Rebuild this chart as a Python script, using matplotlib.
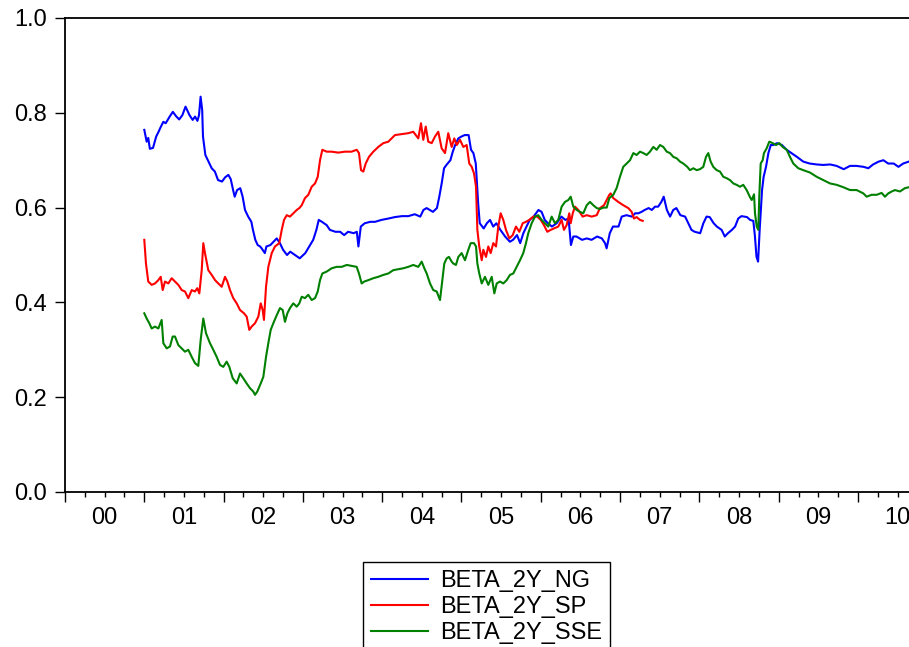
import matplotlib
matplotlib.use("Agg")
import matplotlib.pyplot as plt
from matplotlib.ticker import FixedLocator, FuncFormatter

plt.rcParams["font.family"] = ["Liberation Sans", "DejaVu Sans"]

# rolling two-year betas, dates as decimal years
NG_T = [2001.00, 2001.03, 2001.05, 2001.07, 2001.11, 2001.15, 2001.18, 2001.21, 2001.24, 2001.27,
        2001.32, 2001.36, 2001.40, 2001.44, 2001.48, 2001.52, 2001.57, 2001.61, 2001.64, 2001.67,
        2001.69, 2001.71, 2001.73, 2001.74, 2001.77, 2001.81, 2001.85, 2001.89, 2001.93, 2001.98,
        2002.02, 2002.06, 2002.09, 2002.12, 2002.14, 2002.17, 2002.21, 2002.24, 2002.27, 2002.31,
        2002.35, 2002.37, 2002.40, 2002.43, 2002.46, 2002.48, 2002.52, 2002.54, 2002.59, 2002.63,
        2002.67, 2002.71, 2002.75, 2002.80, 2002.84, 2002.90, 2002.96, 2003.03, 2003.09, 2003.13,
        2003.17, 2003.20, 2003.24, 2003.30, 2003.34, 2003.41, 2003.47, 2003.52, 2003.57, 2003.64,
        2003.68, 2003.70, 2003.73, 2003.78, 2003.85, 2003.91, 2003.99, 2004.08, 2004.16, 2004.25,
        2004.33, 2004.41, 2004.48, 2004.52, 2004.56, 2004.60, 2004.64, 2004.69, 2004.72, 2004.75,
        2004.78, 2004.81, 2004.86, 2004.89, 2004.92, 2004.96, 2005.00, 2005.04, 2005.09, 2005.12,
        2005.15, 2005.18, 2005.21, 2005.23, 2005.28, 2005.32, 2005.36, 2005.40, 2005.44, 2005.49,
        2005.55, 2005.61, 2005.65, 2005.70, 2005.74, 2005.78, 2005.82, 2005.86, 2005.91, 2005.97,
        2006.01, 2006.05, 2006.09, 2006.14, 2006.20, 2006.26, 2006.31, 2006.35, 2006.38, 2006.41,
        2006.45, 2006.52, 2006.58, 2006.64, 2006.71, 2006.77, 2006.81, 2006.83, 2006.87, 2006.91,
        2006.98, 2007.02, 2007.08, 2007.15, 2007.19, 2007.23, 2007.27, 2007.31, 2007.36, 2007.40,
        2007.44, 2007.48, 2007.52, 2007.55, 2007.59, 2007.63, 2007.67, 2007.71, 2007.76, 2007.82,
        2007.86, 2007.90, 2007.94, 2008.01, 2008.05, 2008.09, 2008.13, 2008.18, 2008.22, 2008.28,
        2008.32, 2008.36, 2008.41, 2008.45, 2008.49, 2008.53, 2008.60, 2008.64, 2008.68, 2008.70,
        2008.72, 2008.74, 2008.76, 2008.79, 2008.81, 2008.84, 2008.87, 2008.90, 2008.93, 2008.98,
        2009.04, 2009.10, 2009.16, 2009.23, 2009.31, 2009.39, 2009.48, 2009.56, 2009.65, 2009.73,
        2009.82, 2009.90, 2009.98, 2010.07, 2010.13, 2010.19, 2010.26, 2010.32, 2010.38, 2010.45,
        2010.51, 2010.57, 2010.64]
NG_V = [0.764, 0.739, 0.747, 0.724, 0.726, 0.750, 0.760, 0.771, 0.781, 0.778,
        0.792, 0.802, 0.793, 0.786, 0.795, 0.813, 0.795, 0.785, 0.792, 0.783,
        0.795, 0.834, 0.806, 0.750, 0.711, 0.697, 0.683, 0.676, 0.658, 0.655,
        0.664, 0.669, 0.660, 0.637, 0.623, 0.637, 0.641, 0.623, 0.595, 0.581,
        0.570, 0.553, 0.532, 0.521, 0.518, 0.514, 0.504, 0.518, 0.521, 0.528,
        0.535, 0.525, 0.511, 0.500, 0.507, 0.500, 0.493, 0.504, 0.521, 0.532,
        0.553, 0.574, 0.570, 0.563, 0.553, 0.549, 0.549, 0.542, 0.549, 0.546,
        0.549, 0.518, 0.560, 0.567, 0.570, 0.570, 0.574, 0.577, 0.580, 0.582,
        0.582, 0.586, 0.581, 0.595, 0.599, 0.595, 0.591, 0.599, 0.623, 0.651,
        0.683, 0.690, 0.700, 0.718, 0.732, 0.746, 0.750, 0.753, 0.753, 0.722,
        0.715, 0.693, 0.609, 0.567, 0.556, 0.567, 0.574, 0.560, 0.567, 0.553,
        0.539, 0.528, 0.532, 0.542, 0.525, 0.546, 0.560, 0.574, 0.581, 0.595,
        0.591, 0.574, 0.567, 0.560, 0.567, 0.581, 0.574, 0.577, 0.521, 0.539,
        0.539, 0.532, 0.535, 0.532, 0.539, 0.535, 0.525, 0.514, 0.546, 0.560,
        0.560, 0.581, 0.584, 0.581, 0.588, 0.588, 0.591, 0.595, 0.599, 0.595,
        0.602, 0.602, 0.612, 0.623, 0.595, 0.581, 0.595, 0.599, 0.584, 0.581,
        0.567, 0.553, 0.549, 0.546, 0.567, 0.581, 0.580, 0.567, 0.560, 0.553,
        0.539, 0.546, 0.553, 0.560, 0.577, 0.582, 0.580, 0.574, 0.572, 0.540,
        0.496, 0.486, 0.553, 0.637, 0.665, 0.686, 0.715, 0.732, 0.732, 0.736,
        0.732, 0.722, 0.715, 0.707, 0.697, 0.693, 0.691, 0.690, 0.691, 0.688,
        0.681, 0.688, 0.688, 0.686, 0.683, 0.691, 0.697, 0.700, 0.693, 0.693,
        0.686, 0.693, 0.697]

SP_T = [2001.000, 2001.021, 2001.050, 2001.093, 2001.135, 2001.177, 2001.207, 2001.232, 2001.261, 2001.303,
        2001.345, 2001.387, 2001.429, 2001.472, 2001.513, 2001.555, 2001.598, 2001.639, 2001.668, 2001.694,
        2001.724, 2001.744, 2001.765, 2001.807, 2001.850, 2001.892, 2001.933, 2001.976, 2002.018, 2002.047,
        2002.081, 2002.122, 2002.165, 2002.207, 2002.257, 2002.291, 2002.324, 2002.354, 2002.396, 2002.438,
        2002.468, 2002.493, 2002.509, 2002.535, 2002.564, 2002.607, 2002.648, 2002.702, 2002.733, 2002.762,
        2002.796, 2002.837, 2002.879, 2002.922, 2002.955, 2002.985, 2003.026, 2003.068, 2003.111, 2003.153,
        2003.187, 2003.216, 2003.245, 2003.300, 2003.363, 2003.446, 2003.531, 2003.615, 2003.678, 2003.707,
        2003.733, 2003.762, 2003.792, 2003.833, 2003.888, 2003.951, 2004.014, 2004.077, 2004.161, 2004.246,
        2004.329, 2004.392, 2004.455, 2004.489, 2004.518, 2004.549, 2004.581, 2004.624, 2004.666, 2004.707,
        2004.750, 2004.792, 2004.833, 2004.876, 2004.909, 2004.940, 2004.981, 2005.023, 2005.065, 2005.098,
        2005.129, 2005.158, 2005.183, 2005.200, 2005.224, 2005.255, 2005.275, 2005.309, 2005.338, 2005.368,
        2005.401, 2005.435, 2005.464, 2005.494, 2005.527, 2005.561, 2005.603, 2005.646, 2005.687, 2005.729,
        2005.772, 2005.813, 2005.855, 2005.905, 2005.956, 2005.999, 2006.040, 2006.082, 2006.125, 2006.166,
        2006.220, 2006.263, 2006.292, 2006.326, 2006.359, 2006.377, 2006.403, 2006.431, 2006.473, 2006.528,
        2006.579, 2006.642, 2006.705, 2006.746, 2006.797, 2006.831, 2006.864, 2006.881, 2006.914, 2006.977,
        2007.040, 2007.103, 2007.146, 2007.175, 2007.208, 2007.251, 2007.285]
SP_V = [0.532, 0.482, 0.444, 0.437, 0.440, 0.447, 0.454, 0.426, 0.444, 0.440,
        0.451, 0.444, 0.437, 0.426, 0.423, 0.409, 0.426, 0.423, 0.430, 0.419,
        0.468, 0.525, 0.504, 0.468, 0.458, 0.447, 0.440, 0.433, 0.454, 0.444,
        0.426, 0.409, 0.398, 0.384, 0.377, 0.370, 0.342, 0.349, 0.356, 0.370,
        0.398, 0.384, 0.363, 0.433, 0.475, 0.504, 0.518, 0.525, 0.553, 0.574,
        0.584, 0.581, 0.588, 0.595, 0.599, 0.605, 0.620, 0.627, 0.644, 0.651,
        0.665, 0.700, 0.722, 0.718, 0.718, 0.716, 0.718, 0.718, 0.722, 0.715,
        0.679, 0.676, 0.693, 0.707, 0.718, 0.728, 0.736, 0.739, 0.753, 0.755,
        0.757, 0.760, 0.746, 0.778, 0.743, 0.771, 0.739, 0.736, 0.750, 0.760,
        0.725, 0.715, 0.757, 0.728, 0.746, 0.732, 0.743, 0.728, 0.732, 0.693,
        0.686, 0.672, 0.644, 0.553, 0.518, 0.489, 0.511, 0.496, 0.518, 0.504,
        0.525, 0.518, 0.560, 0.588, 0.574, 0.553, 0.535, 0.542, 0.560, 0.549,
        0.567, 0.570, 0.574, 0.581, 0.581, 0.574, 0.563, 0.549, 0.553, 0.556,
        0.560, 0.574, 0.553, 0.563, 0.588, 0.567, 0.588, 0.602, 0.595, 0.581,
        0.584, 0.581, 0.584, 0.599, 0.605, 0.616, 0.627, 0.630, 0.620, 0.612,
        0.605, 0.599, 0.591, 0.577, 0.580, 0.574, 0.572]

SSE_T = [2001.000, 2001.030, 2001.063, 2001.093, 2001.135, 2001.177, 2001.219, 2001.240, 2001.282, 2001.324,
         2001.358, 2001.387, 2001.429, 2001.472, 2001.513, 2001.555, 2001.598, 2001.639, 2001.681, 2001.711,
         2001.744, 2001.778, 2001.828, 2001.870, 2001.913, 2001.955, 2001.996, 2002.039, 2002.072, 2002.115,
         2002.165, 2002.207, 2002.248, 2002.291, 2002.333, 2002.374, 2002.396, 2002.425, 2002.468, 2002.501,
         2002.535, 2002.564, 2002.594, 2002.627, 2002.670, 2002.711, 2002.745, 2002.774, 2002.804, 2002.837,
         2002.879, 2002.922, 2002.955, 2002.985, 2003.026, 2003.068, 2003.111, 2003.153, 2003.187, 2003.216,
         2003.245, 2003.300, 2003.363, 2003.426, 2003.489, 2003.553, 2003.615, 2003.678, 2003.707, 2003.741,
         2003.774, 2003.825, 2003.888, 2003.951, 2004.014, 2004.077, 2004.140, 2004.203, 2004.266, 2004.329,
         2004.392, 2004.455, 2004.498, 2004.531, 2004.561, 2004.603, 2004.644, 2004.687, 2004.729, 2004.758,
         2004.783, 2004.813, 2004.842, 2004.876, 2004.897, 2004.930, 2004.960, 2005.002, 2005.044, 2005.086,
         2005.116, 2005.158, 2005.183, 2005.200, 2005.224, 2005.255, 2005.296, 2005.338, 2005.381, 2005.414,
         2005.444, 2005.485, 2005.527, 2005.570, 2005.611, 2005.653, 2005.696, 2005.738, 2005.779, 2005.813,
         2005.842, 2005.885, 2005.927, 2005.968, 2006.011, 2006.053, 2006.094, 2006.137, 2006.179, 2006.220,
         2006.263, 2006.305, 2006.347, 2006.377, 2006.410, 2006.453, 2006.494, 2006.536, 2006.579, 2006.620,
         2006.662, 2006.705, 2006.746, 2006.788, 2006.831, 2006.864, 2006.914, 2006.956, 2006.998, 2007.040,
         2007.083, 2007.125, 2007.167, 2007.208, 2007.251, 2007.293, 2007.335, 2007.377, 2007.419, 2007.461,
         2007.503, 2007.545, 2007.588, 2007.629, 2007.671, 2007.714, 2007.756, 2007.797, 2007.847, 2007.881,
         2007.923, 2007.966, 2008.007, 2008.049, 2008.083, 2008.112, 2008.142, 2008.175, 2008.218, 2008.260,
         2008.301, 2008.344, 2008.386, 2008.428, 2008.470, 2008.512, 2008.553, 2008.596, 2008.638, 2008.660,
         2008.689, 2008.701, 2008.723, 2008.743, 2008.755, 2008.773, 2008.798, 2008.814, 2008.848, 2008.881,
         2008.924, 2008.966, 2009.008, 2009.050, 2009.101, 2009.142, 2009.184, 2009.247, 2009.310, 2009.394,
         2009.479, 2009.562, 2009.647, 2009.731, 2009.815, 2009.899, 2009.983, 2010.067, 2010.109, 2010.172,
         2010.236, 2010.298, 2010.340, 2010.382, 2010.425, 2010.466, 2010.529, 2010.592, 2010.643]
SSE_V = [0.377, 0.366, 0.356, 0.345, 0.349, 0.345, 0.363, 0.314, 0.303, 0.307,
         0.328, 0.328, 0.310, 0.303, 0.296, 0.300, 0.285, 0.272, 0.266, 0.321,
         0.366, 0.335, 0.314, 0.300, 0.285, 0.268, 0.264, 0.275, 0.264, 0.240,
         0.229, 0.250, 0.240, 0.229, 0.219, 0.212, 0.205, 0.212, 0.229, 0.243,
         0.285, 0.314, 0.342, 0.356, 0.373, 0.388, 0.384, 0.359, 0.377, 0.388,
         0.398, 0.391, 0.398, 0.412, 0.409, 0.416, 0.405, 0.409, 0.423, 0.447,
         0.461, 0.465, 0.472, 0.475, 0.475, 0.479, 0.477, 0.475, 0.461, 0.440,
         0.444, 0.447, 0.451, 0.454, 0.458, 0.461, 0.468, 0.470, 0.472, 0.475,
         0.479, 0.475, 0.486, 0.472, 0.461, 0.440, 0.426, 0.423, 0.405, 0.447,
         0.482, 0.493, 0.496, 0.486, 0.482, 0.479, 0.496, 0.504, 0.489, 0.511,
         0.525, 0.525, 0.518, 0.482, 0.461, 0.440, 0.454, 0.437, 0.454, 0.419,
         0.440, 0.444, 0.440, 0.447, 0.458, 0.461, 0.475, 0.489, 0.504, 0.525,
         0.546, 0.567, 0.581, 0.584, 0.574, 0.567, 0.560, 0.581, 0.567, 0.574,
         0.602, 0.612, 0.616, 0.623, 0.602, 0.595, 0.591, 0.588, 0.605, 0.612,
         0.605, 0.599, 0.597, 0.600, 0.600, 0.620, 0.627, 0.641, 0.665, 0.686,
         0.693, 0.700, 0.715, 0.711, 0.718, 0.715, 0.711, 0.718, 0.728, 0.722,
         0.732, 0.728, 0.718, 0.715, 0.707, 0.704, 0.697, 0.693, 0.686, 0.679,
         0.683, 0.679, 0.681, 0.686, 0.707, 0.715, 0.697, 0.686, 0.679, 0.676,
         0.665, 0.662, 0.658, 0.651, 0.648, 0.644, 0.648, 0.637, 0.622, 0.616,
         0.628, 0.588, 0.560, 0.553, 0.623, 0.693, 0.700, 0.715, 0.725, 0.739,
         0.736, 0.732, 0.736, 0.728, 0.722, 0.707, 0.693, 0.683, 0.679, 0.674,
         0.665, 0.658, 0.651, 0.648, 0.643, 0.637, 0.637, 0.630, 0.623, 0.627,
         0.627, 0.631, 0.623, 0.630, 0.634, 0.637, 0.634, 0.641, 0.643]

YEARS = list(range(2000, 2011))
YEAR_LABELS = ["00", "01", "02", "03", "04", "05", "06", "07", "08", "09", "10"]
Y_TICKS = [0.0, 0.2, 0.4, 0.6, 0.8, 1.0]


def main():
    fig = plt.figure(figsize=(9.09, 6.47), dpi=100)
    ax = fig.add_axes([65 / 909, 1 - 492 / 647, 844 / 909, 474 / 647])

    ax.plot(NG_T, NG_V, color="blue", lw=1.5, label="BETA_2Y_NG")
    ax.plot(SP_T, SP_V, color="red", lw=1.5, label="BETA_2Y_SP")
    ax.plot(SSE_T, SSE_V, color="green", lw=1.5, label="BETA_2Y_SSE")

    ax.set_xlim(2000, 2000 + 844 / 79.3)
    ax.set_ylim(0, 1)

    ax.set_yticks(Y_TICKS)
    ax.set_yticklabels([f"{v:.1f}" for v in Y_TICKS])

    # long ticks at year boundaries, short quarterly ticks, labels mid-year
    ax.xaxis.set_major_locator(FixedLocator(YEARS))
    ax.xaxis.set_major_formatter(FuncFormatter(lambda x, pos: ""))
    quarters = [y + q / 4 for y in YEARS for q in (1, 2, 3)]
    ax.xaxis.set_minor_locator(FixedLocator(quarters))
    labels = {y + 0.5: lab for y, lab in zip(YEARS, YEAR_LABELS)}
    ax.xaxis.set_minor_formatter(
        FuncFormatter(lambda x, pos: labels.get(round(x, 2), "")))

    ax.tick_params(axis="y", direction="out", length=7, width=1.0, pad=6,
                   labelsize=17, colors="black")
    ax.tick_params(axis="x", which="major", direction="out", length=7.5,
                   width=1.0)
    ax.tick_params(axis="x", which="minor", direction="out", length=3.6,
                   width=1.0, pad=7.5, labelsize=17)

    for side in ("left", "bottom", "top"):
        ax.spines[side].set_linewidth(1.3)
        ax.spines[side].set_color("black")
    ax.spines["right"].set_visible(False)

    handles, labels_ = ax.get_legend_handles_labels()
    leg = fig.legend(handles, labels_, loc="upper left",
                     bbox_to_anchor=(363 / 909, 1 - 562 / 647),
                     borderaxespad=0, fancybox=False, edgecolor="black",
                     framealpha=1, borderpad=0.35, handlelength=2.4,
                     handletextpad=0.5, labelspacing=0.16, fontsize=17)
    leg.get_frame().set_linewidth(1.0)

    fig.savefig("out.png", dpi=100)


if __name__ == "__main__":
    main()
